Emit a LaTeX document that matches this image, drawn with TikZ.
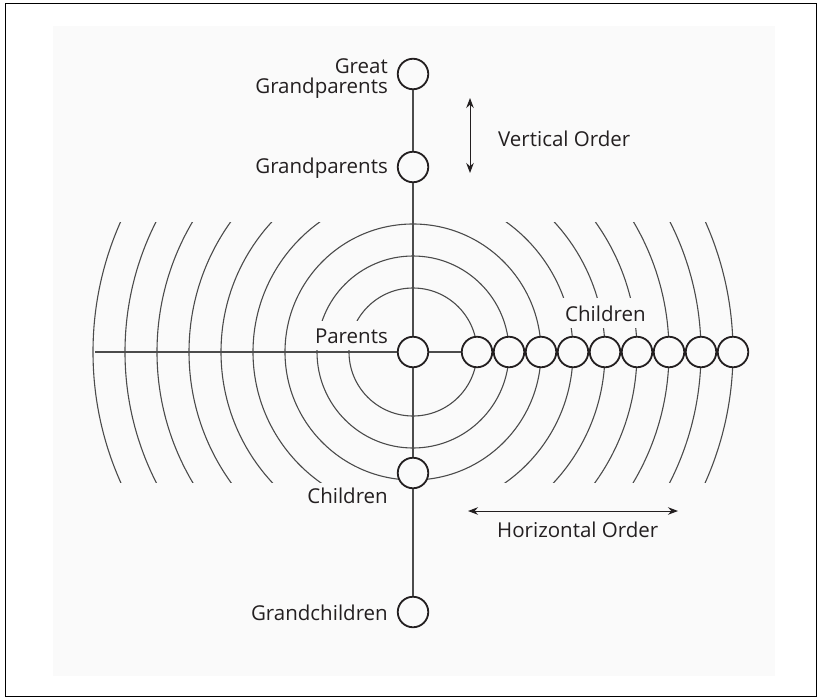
\documentclass[tikz,border=0pt]{standalone}
\usepackage{fontspec}
\setmainfont{Open Sans}
\usetikzlibrary{arrows.meta}
\definecolor{bg}{RGB}{250,250,250}
\definecolor{ink}{RGB}{35,31,32}
\definecolor{ringc}{RGB}{75,75,75}
\begin{document}
\begin{tikzpicture}[x=1pt,y=-1pt,
  ring/.style={draw=ringc, line width=1.1pt},
  axis/.style={draw=ringc, line width=1.2pt},
  dot/.style={circle, draw=ink, line width=1.8pt, fill=bg, minimum size=30.5pt, inner sep=0pt},
  lab/.style={font=\fontsize{20.5}{20.5}\selectfont, text=ink, inner sep=0pt},
  gaplab/.style={lab, fill=bg, inner xsep=6pt, inner ysep=7pt},
  arr/.style={draw=ink, line width=1pt, {Stealth[length=10pt,width=7.5pt]}-{Stealth[length=10pt,width=7.5pt]}}]
\useasboundingbox (0,0) rectangle (819,699);
% frame and faint panel
\fill[white] (0,0) rectangle (819,699);
\fill[bg] (53,26) rectangle (775,676);
\draw[black, line width=1.6pt] (5.5,3.5) rectangle (816.5,696.5);
% rings clipped to a band
\begin{scope}
  \clip (0,222) rectangle (819,482);
  \foreach \r in {64,96,...,320}
    \draw[ring] (413,352) circle[radius=\r];
\end{scope}
% labels that interrupt the rings
\node[gaplab, anchor=base east] (tpar) at (394,343) {Parents};
\node[gaplab, anchor=base west] (tch1) at (559,321) {Children};
% nodes
\node[dot] (gg) at (413,74) {};
\node[dot] (g) at (413,167) {};
\node[dot] (p) at (413,352) {};
\node[dot] (c) at (413,473) {};
\node[dot] (gc) at (413,612) {};
\foreach \i in {1,...,9}
  \node[dot] (k\i) at (445+32*\i,352) {};
\coordinate (hl) at (95,352);
% axes
\draw[axis] (gg) -- (g);
\draw[axis] (g) -- (p);
\draw[axis] (p) -- (c);
\draw[axis] (c) -- (gc);
\draw[axis] (hl) -- (p);
\draw[axis] (p) -- (k1);
% other labels
\node[lab, align=right, anchor=north east] (tgg) at (388,58) {Great\\Grandparents};
\node[lab, anchor=base east] (tg) at (388,173) {Grandparents};
\node[lab, anchor=base east] (tch2) at (388,503) {Children};
\node[lab, anchor=base east] (tgc) at (388,620) {Grandchildren};
\node[lab, anchor=base west] (tvo) at (498,146) {Vertical Order};
\node[lab, anchor=base west] (tho) at (497,537) {Horizontal Order};
% arrows
\coordinate (va) at (470,98);
\coordinate (vb) at (470,173);
\coordinate (ha) at (468,511);
\coordinate (hb) at (678,511);
\draw[arr] (va) -- (vb);
\draw[arr] (ha) -- (hb);
\end{tikzpicture}
\end{document}
